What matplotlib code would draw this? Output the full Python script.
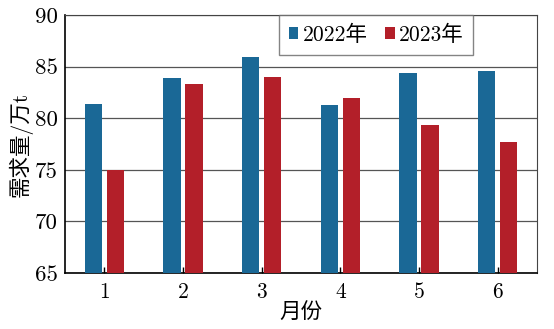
import matplotlib.pyplot as plt
import numpy as np

months = ['1', '2', '3', '4', '5', '6']
demand_2022 = [81.4, 83.9, 85.9, 81.3, 84.4, 84.6]
demand_2023 = [75.0, 83.3, 84.0, 82.0, 79.3, 77.7]
series_labels = ['2022年', '2023年']

plt.rcParams['font.family'] = ['cmr10', 'Noto Sans CJK SC']
plt.rcParams['font.size'] = 15

fig = plt.figure(figsize=(5.54, 3.29), dpi=100)
ax = fig.add_axes([65 / 554, 1 - 273 / 329, 472 / 554, 258 / 329])

x = np.arange(1, len(months) + 1)
width = 0.22
ax.bar(x - 0.14, demand_2022, width, bottom=0, color='#1a6896', label=series_labels[0], zorder=3)
ax.bar(x + 0.14, demand_2023, width, bottom=0, color='#b31f29', label=series_labels[1], zorder=3)

ax.set_ylim(65, 90)
ax.set_xlim(0.5, 6.5)
ax.set_yticks(np.arange(65, 91, 5))
ax.set_xticks(x)
ax.set_xticklabels(months)
ax.yaxis.grid(True, color='#555555', linewidth=0.9, zorder=0)
ax.tick_params(axis='x', direction='in', length=4, width=1, pad=7, labelsize=15.5)
ax.tick_params(axis='y', length=0, pad=5, labelsize=16.5)
for side in ['left', 'bottom']:
    ax.spines[side].set_linewidth(1.2)
for side in ['top', 'right']:
    ax.spines[side].set_color('#444444')

ax.set_ylabel('需求量/万t', fontsize=15.5, labelpad=2)
ax.set_xlabel('月份', fontsize=15.5, labelpad=0)

leg = ax.legend(loc='upper left', bbox_to_anchor=(214 / 472, 1.0), ncol=2, fontsize=15.5,
                frameon=True, fancybox=False, edgecolor='#666666', handlelength=0.45,
                handleheight=0.45, handletextpad=0.2, columnspacing=0.8, borderaxespad=0,
                borderpad=0.45)
leg.get_frame().set_linewidth(1.0)

fig.savefig('out.png', dpi=100)
